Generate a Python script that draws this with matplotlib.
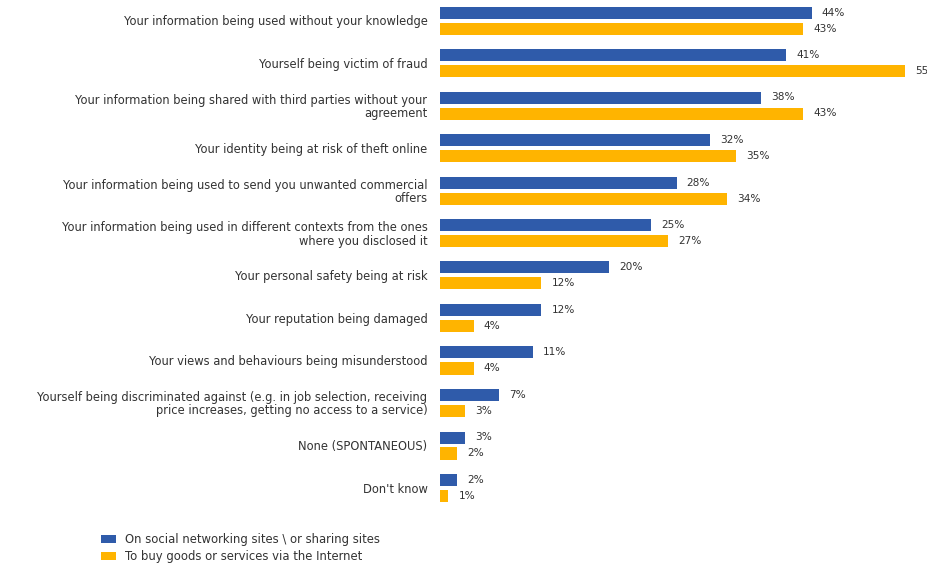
import matplotlib
matplotlib.use("Agg")
import matplotlib.pyplot as plt
from matplotlib.patches import Patch
import numpy as np

plt.rcParams['font.family'] = ['DejaVu Sans']

categories = [
    "Your information being used without your knowledge",
    "Yourself being victim of fraud",
    "Your information being shared with third parties without your\nagreement",
    "Your identity being at risk of theft online",
    "Your information being used to send you unwanted commercial\noffers",
    "Your information being used in different contexts from the ones\nwhere you disclosed it",
    "Your personal safety being at risk",
    "Your reputation being damaged",
    "Your views and behaviours being misunderstood",
    "Yourself being discriminated against (e.g. in job selection, receiving\nprice increases, getting no access to a service)",
    "None (SPONTANEOUS)",
    "Don't know",
]
social_sites = [44, 41, 38, 32, 28, 25, 20, 12, 11, 7, 3, 2]
online_shopping = [43, 55, 43, 35, 34, 27, 12, 4, 4, 3, 2, 1]
series_names = [
    "On social networking sites \\ or sharing sites",
    "To buy goods or services via the Internet",
]

BLUE = "#2F5BAA"
ORANGE = "#FFB400"
TEXT = "#333333"

W, H, DPI = 928, 565, 100
fig = plt.figure(figsize=(W / DPI, H / DPI), dpi=DPI)
fig.patch.set_facecolor("white")

# axes starts where the bars start and runs to the right edge
x0_px = 440
px_per_pct = 8.45
ax = fig.add_axes([x0_px / W, 0, (W - x0_px) / W, 1])
ax.set_xlim(0, (W - x0_px) / px_per_pct)

row_px = 42.5
first_center_px = 20.5
ax.set_ylim((H - first_center_px) / row_px, -first_center_px / row_px)

y = np.arange(len(categories))
offset = 8 / row_px
height = 12 / row_px

ax.barh(y - offset, social_sites, height=height, color=BLUE)
ax.barh(y + offset, online_shopping, height=height, color=ORANGE)

for yi, v in zip(y, social_sites):
    ax.annotate(f"{v}%", (v, yi - offset), xytext=(10, 0), textcoords="offset pixels",
                va="center", ha="left", fontsize=7.6, color=TEXT, annotation_clip=False)
for yi, v in zip(y, online_shopping):
    ax.annotate(f"{v}%", (v, yi + offset), xytext=(10, 0), textcoords="offset pixels",
                va="center", ha="left", fontsize=7.6, color=TEXT, annotation_clip=False)

ax.set_yticks(y)
ax.set_yticklabels(categories, fontsize=8.3, color=TEXT, linespacing=1.0)
ax.tick_params(axis="y", length=0, pad=9)
ax.set_xticks([])
for s in ax.spines.values():
    s.set_visible(False)

handles = [Patch(facecolor=BLUE), Patch(facecolor=ORANGE)]
fig.legend(handles, series_names, loc="upper left",
           bbox_to_anchor=(93 / W, 1 - 525 / H), frameon=False,
           fontsize=8.4, labelcolor=TEXT, handlelength=1.3, handleheight=0.65,
           handletextpad=0.75, labelspacing=0.34, borderaxespad=0.3)

fig.savefig("out.png", dpi=DPI, facecolor="white")
